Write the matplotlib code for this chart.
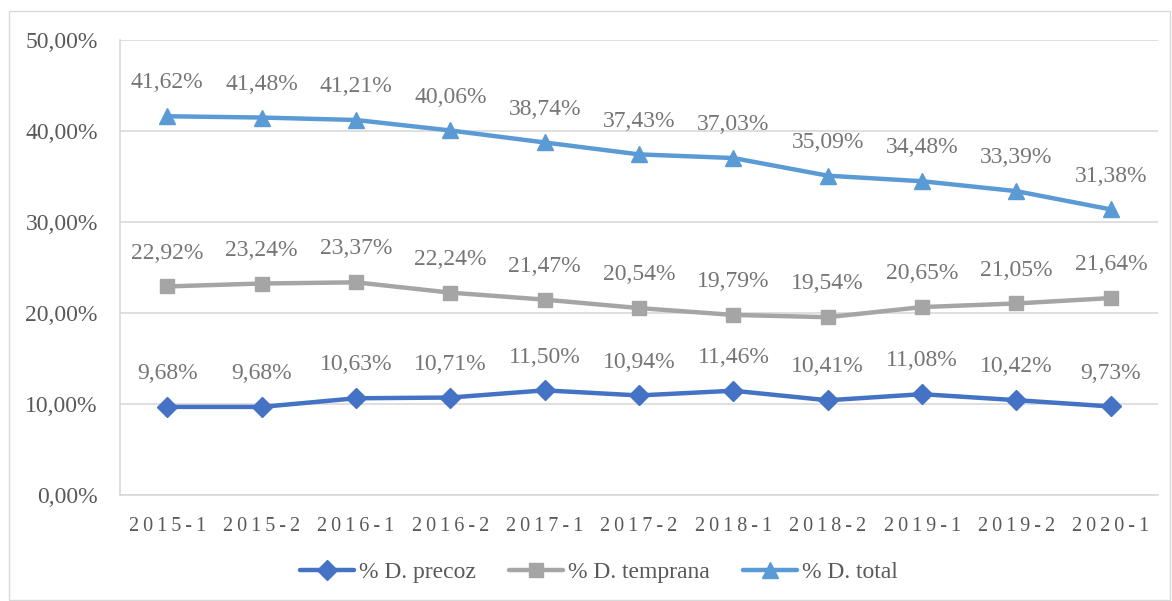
import numpy as np
import matplotlib
matplotlib.use('Agg')
import matplotlib.pyplot as plt
from matplotlib.patches import Rectangle

# Semesters and dropout rates (%)
periods = ['2015-1', '2015-2', '2016-1', '2016-2', '2017-1', '2017-2',
           '2018-1', '2018-2', '2019-1', '2019-2', '2020-1']
precoz   = [9.68, 9.68, 10.63, 10.71, 11.50, 10.94, 11.46, 10.41, 11.08, 10.42, 9.73]
temprana = [22.92, 23.24, 23.37, 22.24, 21.47, 20.54, 19.79, 19.54, 20.65, 21.05, 21.64]
total    = [41.62, 41.48, 41.21, 40.06, 38.74, 37.43, 37.03, 35.09, 34.48, 33.39, 31.38]
y_ticks  = [0, 10, 20, 30, 40, 50]

plt.rcParams['font.family'] = ['Liberation Serif', 'DejaVu Serif']

txt_col  = '#595959'
grid_col = '#d9d9d9'

fig = plt.figure(figsize=(11.72, 6.01), dpi=100)
# outer chart border like Excel
fig.patches.append(Rectangle((9 / 1172, 0.002), 1 - 9 / 1172 - 0.002, 1 - 11 / 601 - 0.002,
                             transform=fig.transFigure, fill=False,
                             edgecolor=grid_col, linewidth=1))

ax = fig.add_axes([120 / 1172, 1 - 495 / 601, (1158 - 120) / 1172, (495 - 40) / 601])
x = np.arange(len(periods))

series = [
    (precoz, '% D. precoz', '#4472C4', 'D', 10),
    (temprana, '% D. temprana', '#A5A5A5', 's', 9.5),
    (total, '% D. total', '#5B9BD5', '^', 11),
]
for vals, name, col, mk, ms in series:
    ax.plot(x, vals, color=col, linewidth=3.2, marker=mk, markersize=ms,
            label=name, solid_capstyle='round', zorder=3)
    for xi, v in zip(x, vals):
        lbl = ('%.2f%%' % v).replace('.', ',')
        ax.annotate(lbl, xy=(xi, v), xytext=(0, 24), textcoords='offset points',
                    ha='center', va='center', fontsize=17, color='#757575')

ax.set_xlim(-0.5, len(periods) - 0.5)
ax.set_ylim(0, 50)
ax.set_yticks(y_ticks)
ax.set_yticklabels([('%.2f%%' % t).replace('.', ',') for t in y_ticks],
                   fontsize=17, color=txt_col)
ax.set_xticks(x)
# letter-spaced category labels, as in the original
ax.set_xticklabels(['\u2009'.join(p) for p in periods], fontsize=14.5, color=txt_col)
ax.tick_params(length=0)
ax.tick_params(axis='x', pad=16)
ax.tick_params(axis='y', pad=16)
ax.grid(axis='y', color=grid_col, linewidth=1.2, zorder=0)
ax.set_axisbelow(True)
for s in ['top', 'right']:
    ax.spines[s].set_visible(False)
ax.spines['left'].set_color(grid_col)
ax.spines['bottom'].set_color(grid_col)
ax.spines['left'].set_linewidth(1.2)
ax.spines['bottom'].set_linewidth(1.2)

leg = fig.legend(loc='center', bbox_to_anchor=(0.511, 1 - 572 / 601), ncol=3,
                 frameon=False, fontsize=17, handlelength=2.3, handletextpad=0.2,
                 columnspacing=1.4)
for t in leg.get_texts():
    t.set_color(txt_col)

fig.savefig('out.png', dpi=100)
